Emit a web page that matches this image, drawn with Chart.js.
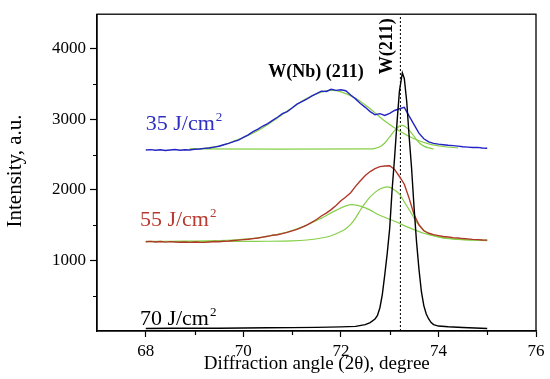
<!DOCTYPE html>
<html>
<head>
<meta charset="utf-8">
<script src="https://cdn.jsdelivr.net/npm/chart.js@4.4.1/dist/chart.umd.min.js"></script>
<style>
  html, body { margin: 0; padding: 0; background: #fff; }
  #wrap { width: 550px; height: 379px; }
</style>
</head>
<body>
<div id="wrap"><canvas id="myChart" width="550" height="379"></canvas></div>
<script>
// 35 J/cm2 measured pattern
const angle35 = [68.0, 68.1, 68.2, 68.3, 68.4, 68.5, 68.6, 68.7, 68.8, 68.9, 69.0, 69.1, 69.2, 69.3, 69.4, 69.5, 69.6, 69.7, 69.8, 69.9,
  70.0, 70.1, 70.2, 70.3, 70.4, 70.5, 70.6, 70.7, 70.8, 70.9, 71.0, 71.1, 71.2, 71.3, 71.4, 71.5, 71.6, 71.7, 71.8, 71.9,
  72.0, 72.1, 72.2, 72.3, 72.4, 72.5, 72.6, 72.7, 72.8, 72.9, 73.0, 73.1, 73.2, 73.3, 73.4, 73.5, 73.6, 73.7, 73.8, 73.9,
  74.0, 74.1, 74.2, 74.3, 74.4, 74.5, 74.6, 74.7, 74.8, 74.9, 75.0];
const int35 = [2565, 2570, 2562, 2568, 2558, 2566, 2572, 2562, 2568, 2566, 2575, 2580, 2588, 2594, 2606, 2618, 2640, 2660, 2685, 2705,
  2745, 2780, 2825, 2860, 2905, 2940, 2985, 3030, 3080, 3110, 3160, 3215, 3250, 3285, 3330, 3365, 3400, 3395, 3425, 3410,
  3420, 3405, 3345, 3290, 3225, 3170, 3110, 3065, 3080, 3055, 3085, 3125, 3150, 3170, 3045, 2925, 2805, 2725, 2680, 2660,
  2648, 2640, 2632, 2628, 2620, 2612, 2606, 2600, 2602, 2594, 2590];

// 35 J/cm2 fitted components
const fit35aAngle = [68.9, 69.2, 69.5, 69.8, 70.1, 70.4, 70.7, 71.0, 71.3, 71.6, 71.8, 72.0, 72.3, 72.6, 72.9, 73.2, 73.5, 73.8, 74.1, 74.4];
const fit35aInt = [2580, 2590, 2620, 2690, 2770, 2880, 3020, 3165, 3300, 3385, 3410, 3390, 3300, 3150, 2975, 2835, 2725, 2652, 2615, 2595];
const fit35bAngle = [68.9, 72.6, 72.7, 72.8, 72.9, 73.0, 73.1, 73.2, 73.25, 73.3, 73.4, 73.5, 73.6, 73.7, 73.8, 73.9];
const fit35bInt = [2580, 2580, 2588, 2610, 2665, 2750, 2840, 2905, 2915, 2905, 2848, 2758, 2672, 2620, 2595, 2582];

// 55 J/cm2 measured pattern
const angle55 = [68.0, 68.1, 68.2, 68.3, 68.4, 68.5, 68.6, 68.7, 68.8, 68.9, 69.0, 69.1, 69.2, 69.3, 69.4, 69.5, 69.6, 69.7, 69.8, 69.9,
  70.0, 70.1, 70.2, 70.3, 70.4, 70.5, 70.6, 70.7, 70.8, 70.9, 71.0, 71.1, 71.2, 71.3, 71.4, 71.5, 71.6, 71.7, 71.8, 71.9,
  72.0, 72.1, 72.2, 72.3, 72.4, 72.5, 72.6, 72.7, 72.8, 72.9, 73.0, 73.1, 73.2, 73.3, 73.4, 73.5, 73.6, 73.7, 73.8, 73.9,
  74.0, 74.1, 74.2, 74.3, 74.4, 74.5, 74.6, 74.7, 74.8, 74.9, 75.0];
const int55 = [1265, 1270, 1262, 1268, 1260, 1266, 1262, 1258, 1262, 1256, 1262, 1258, 1256, 1262, 1268, 1264, 1272, 1276, 1282, 1288,
  1295, 1300, 1310, 1318, 1330, 1342, 1358, 1365, 1380, 1398, 1420, 1440, 1470, 1500, 1540, 1580, 1630, 1670, 1720, 1780,
  1845, 1900, 1960, 2050, 2130, 2205, 2260, 2300, 2330, 2338, 2342, 2290, 2190, 2080, 1880, 1650, 1505, 1420, 1385, 1365,
  1352, 1340, 1332, 1324, 1318, 1310, 1305, 1298, 1295, 1290, 1288];

// 55 J/cm2 fitted components
const fit55aAngle = [68.0, 68.5, 69.0, 69.5, 69.8, 70.1, 70.4, 70.7, 71.0, 71.3, 71.6, 71.9, 72.2, 72.5, 72.8, 73.1, 73.4, 73.7, 74.0, 74.3, 74.6, 75.0];
const fit55aInt = [1270, 1272, 1275, 1282, 1290, 1305, 1330, 1370, 1425, 1500, 1600, 1710, 1790, 1745, 1640, 1555, 1465, 1385, 1335, 1308, 1292, 1282];
const fit55bAngle = [68.0, 69.0, 70.0, 70.5, 71.0, 71.3, 71.6, 71.8, 72.0, 72.1, 72.2, 72.3, 72.4, 72.5, 72.6, 72.7, 72.8, 72.96, 73.1, 73.2, 73.3, 73.41, 73.55, 73.7, 73.82, 74.0, 74.16, 74.5, 75.0];
const fit55bInt = [1268, 1268, 1270, 1272, 1278, 1290, 1318, 1350, 1410, 1450, 1510, 1600, 1715, 1815, 1900, 1965, 2012, 2042, 2000, 1940, 1830, 1707, 1544, 1430, 1381, 1335, 1311, 1295, 1288];

// 70 J/cm2 measured pattern
const angle70 = [68.0, 68.5, 69.0, 69.5, 70.0, 70.5, 71.0, 71.5, 72.0, 72.3, 72.5, 72.6, 72.7, 72.75, 72.8, 72.85, 72.9, 72.95, 73.0, 73.05,
  73.1, 73.15, 73.2, 73.26, 73.3, 73.35, 73.4, 73.45, 73.5, 73.55, 73.6, 73.65, 73.7, 73.75, 73.8, 73.85, 73.9, 74.0, 74.2, 74.5, 75.0];
const int70 = [35, 40, 38, 40, 42, 45, 48, 52, 58, 65, 90, 120, 170, 220, 330, 520, 800, 1100, 1450, 2000,
  2450, 2950, 3400, 3660, 3580, 3250, 2750, 2300, 1750, 1270, 880, 560, 360, 240, 170, 120, 90, 70, 60, 50, 35];

// W(211) reference position and axes
const w211Angle = 73.22;
const xMin = 67, xMax = 76;
const yMin = 0, yMax = 4490;
const xTickValues = [68, 70, 72, 74, 76];
const xMinorTicks = [69, 71, 73, 75];
const yTickValues = [1000, 2000, 3000, 4000];
const yMinorTicks = [500, 1500, 2500, 3500];

const SERIF = "'Liberation Serif', 'Times New Roman', serif";
const GREEN = "#86cf48";
Chart.defaults.font.family = SERIF;

const toPoints = (xs, ys) => xs.map((x, i) => ({ x: x, y: ys[i] }));

const line = (label, xs, ys, color, width, order, tension) => ({
  label: label,
  data: toPoints(xs, ys),
  borderColor: color,
  borderWidth: width,
  pointRadius: 0,
  fill: false,
  tension: tension || 0,
  order: order,
});

const data = {
  datasets: [
    line("70 J/cm2", angle70, int70, "#000000", 1.4, 0),
    line("35 J/cm2", angle35, int35, "#2424c4", 1.4, 1),
    line("55 J/cm2", angle55, int55, "#b0382a", 1.4, 1),
    line("fit 35 a", fit35aAngle, fit35aInt, GREEN, 1.2, 2, 0.3),
    line("fit 35 b", fit35bAngle, fit35bInt, GREEN, 1.2, 2, 0.3),
    line("fit 55 a", fit55aAngle, fit55aInt, GREEN, 1.2, 2, 0.3),
    line("fit 55 b", fit55bAngle, fit55bInt, GREEN, 1.2, 2, 0.3),
    {
      label: "W(211)",
      data: [{ x: w211Angle, y: yMin }, { x: w211Angle, y: yMax }],
      borderColor: "#000000",
      borderWidth: 1,
      borderDash: [2, 2],
      pointRadius: 0,
      order: 3,
    },
  ],
};

// labels, frame and minor ticks drawn on top of the chart
const decorations = {
  id: "decorations",
  afterDraw(chart) {
    const { ctx, chartArea, scales } = chart;
    const x = scales.x;
    const y = scales.y;
    ctx.save();
    ctx.strokeStyle = "#000";
    ctx.lineWidth = 1.3;
    ctx.strokeRect(chartArea.left, chartArea.top, chartArea.right - chartArea.left, chartArea.bottom - chartArea.top);

    ctx.lineWidth = 1.2;
    ctx.beginPath();
    xMinorTicks.forEach((v) => {
      const px = Math.round(x.getPixelForValue(v)) + 0.5;
      ctx.moveTo(px, chartArea.bottom);
      ctx.lineTo(px, chartArea.bottom + 4);
    });
    yMinorTicks.forEach((v) => {
      const py = Math.round(y.getPixelForValue(v)) + 0.5;
      ctx.moveTo(chartArea.left, py);
      ctx.lineTo(chartArea.left - 4, py);
    });
    ctx.stroke();

    const unitLabel = (text, deg, val, color) => {
      const px = x.getPixelForValue(deg);
      const py = y.getPixelForValue(val);
      ctx.fillStyle = color;
      ctx.textAlign = "left";
      ctx.textBaseline = "alphabetic";
      ctx.font = "22px " + SERIF;
      ctx.fillText(text, px, py);
      const w = ctx.measureText(text).width;
      ctx.font = "13px " + SERIF;
      ctx.fillText("2", px + w + 1, py - 9);
    };
    unitLabel("35 J/cm", 68.0, 2845, "#2e2ec0");
    unitLabel("55 J/cm", 67.88, 1488, "#b83a30");
    unitLabel("70 J/cm", 67.88, 80, "#000000");

    ctx.fillStyle = "#000";
    ctx.font = "bold 18px " + SERIF;
    ctx.textAlign = "left";
    ctx.fillText("W(Nb) (211)", x.getPixelForValue(70.51), y.getPixelForValue(3594));

    ctx.save();
    ctx.translate(x.getPixelForValue(73.04), y.getPixelForValue(4035));
    ctx.rotate(-Math.PI / 2);
    ctx.textAlign = "center";
    ctx.fillText("W(211)", 0, 0);
    ctx.restore();

    // axis titles
    ctx.font = "19px " + SERIF;
    ctx.textAlign = "center";
    ctx.fillText("Diffraction angle (2\u03b8), degree", 316.7, 369);
    ctx.save();
    ctx.translate(21, 171);
    ctx.rotate(-Math.PI / 2);
    ctx.font = "21px " + SERIF;
    ctx.fillText("Intensity, a.u.", 0, 0);
    ctx.restore();
    ctx.restore();
  },
};

const config = {
  type: "line",
  data,
  options: {
    responsive: false,
    animation: false,
    events: [],
    layout: { padding: { top: 9, right: 14, left: 0, bottom: 0 } },
    plugins: {
      legend: { display: false },
      tooltip: { enabled: false },
    },
    scales: {
      x: {
        type: "linear",
        min: xMin,
        max: xMax,
        afterBuildTicks: (scale) => {
          scale.ticks = xTickValues.map((v) => ({ value: v }));
        },
        afterFit: (scale) => {
          scale.height = 48;
        },
        ticks: {
          color: "#000",
          font: { family: SERIF, size: 17 },
          padding: 4,
          maxRotation: 0,
          autoSkip: false,
          callback: (v) => String(v),
        },
        grid: { drawOnChartArea: false, tickLength: 6, tickColor: "#000", tickWidth: 1.2 },
        border: { display: true, color: "#000", width: 1.3 },
      },
      y: {
        type: "linear",
        min: yMin,
        max: yMax,
        afterBuildTicks: (scale) => {
          scale.ticks = yTickValues.map((v) => ({ value: v }));
        },
        afterFit: (scale) => {
          scale.width = 97;
        },
        ticks: {
          color: "#000",
          font: { family: SERIF, size: 17 },
          padding: 4,
          callback: (v) => String(v),
        },
        grid: { drawOnChartArea: false, tickLength: 7, tickColor: "#000", tickWidth: 1.2 },
        border: { display: true, color: "#000", width: 1.3 },
      },
    },
  },
  plugins: [decorations],
};

const myChart = new Chart(document.querySelector("#myChart").getContext("2d"), config);
</script>
</body>
</html>
